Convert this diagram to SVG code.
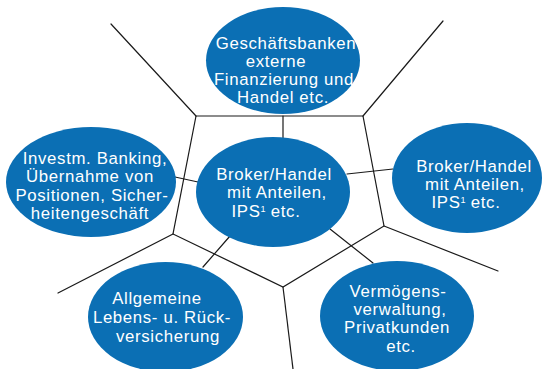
<svg xmlns="http://www.w3.org/2000/svg" width="542" height="369" viewBox="0 0 542 369">
<style>
.ln{stroke:#1a1a1a;stroke-width:1.2;fill:none;stroke-linecap:round}
.el{fill:#0b6fb4}
.t{font-family:"Liberation Sans",Arial,sans-serif;font-size:16.8px;letter-spacing:0.65px;fill:#ffffff;text-anchor:middle}
.sup{font-size:9px;letter-spacing:0}
</style>
<rect width="542" height="369" fill="#ffffff"/>
<g id="connectors">
<polygon class="ln" points="196,116 363,116 384,226 283,287 173,234"/>
<line class="ln" x1="196" y1="116" x2="111" y2="24"/>
<line class="ln" x1="363" y1="116" x2="443" y2="21"/>
<line class="ln" x1="384" y1="226" x2="498" y2="271"/>
<line class="ln" x1="283" y1="287" x2="293" y2="369"/>
<line class="ln" x1="173" y1="234" x2="58" y2="293"/>
<line class="ln" x1="283" y1="116" x2="283" y2="138"/>
<line class="ln" x1="175" y1="177" x2="198" y2="182"/>
<line class="ln" x1="347" y1="174" x2="393" y2="169"/>
<line class="ln" x1="230" y1="236" x2="203" y2="267"/>
<line class="ln" x1="330" y1="229" x2="373" y2="263"/>
</g>
<g id="node-top">
<ellipse class="el" cx="283" cy="60.5" rx="77" ry="53.5"/>
<text class="t" x="286" y="49">Geschäftsbanken</text>
<text class="t" x="276" y="67">externe</text>
<text class="t" x="284" y="85">Finanzierung und</text>
<text class="t" x="283" y="103">Handel etc.</text>
</g>
<g id="node-center">
<ellipse class="el" cx="273" cy="192" rx="77" ry="55"/>
<text class="t" x="274" y="180">Broker/Handel</text>
<text class="t" x="277" y="198">mit Anteilen,</text>
<text class="t" x="266" y="216.5">IPS<tspan class="sup" dy="-5">1</tspan><tspan dy="5"> etc.</tspan></text>
</g>
<g id="node-left">
<ellipse class="el" cx="91" cy="182" rx="85" ry="55"/>
<text class="t" x="95" y="164">Investm. Banking,</text>
<text class="t" x="90" y="182">Übernahme von</text>
<text class="t" x="92" y="201">Positionen, Sicher-</text>
<text class="t" x="90" y="219">heitengeschäft</text>
</g>
<g id="node-right">
<ellipse class="el" cx="467" cy="178" rx="75" ry="55"/>
<text class="t" x="474" y="171.5">Broker/Handel</text>
<text class="t" x="475" y="189.5">mit Anteilen,</text>
<text class="t" x="466" y="207.5">IPS<tspan class="sup" dy="-5">1</tspan><tspan dy="5"> etc.</tspan></text>
</g>
<g id="node-bottom-left">
<ellipse class="el" cx="165.5" cy="317" rx="77.5" ry="55"/>
<text class="t" x="157" y="304">Allgemeine</text>
<text class="t" x="162" y="323">Lebens- u. Rück-</text>
<text class="t" x="168" y="342">versicherung</text>
</g>
<g id="node-bottom-right">
<ellipse class="el" cx="397" cy="316" rx="77" ry="55"/>
<text class="t" x="398" y="297">Vermögens-</text>
<text class="t" x="400" y="315">verwaltung,</text>
<text class="t" x="397" y="333">Privatkunden</text>
<text class="t" x="401" y="352">etc.</text>
</g>
</svg>
